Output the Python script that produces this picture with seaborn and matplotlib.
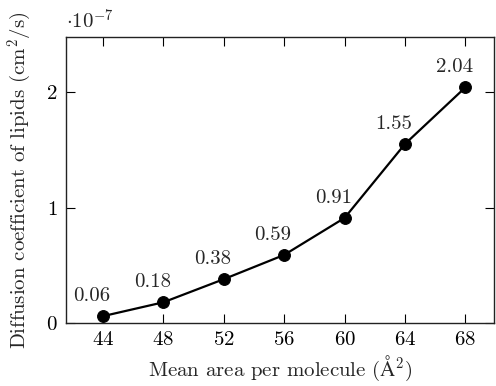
import matplotlib
matplotlib.use("Agg")
import matplotlib.pyplot as plt
import seaborn as sns
import pandas as pd

# data (diffusion coefficient in units of 1e-7 cm^2/s)
area = [44, 48, 52, 56, 60, 64, 68]
diffusion = [0.06, 0.18, 0.38, 0.59, 0.91, 1.55, 2.04]
labels = ["0.06", "0.18", "0.38", "0.59", "0.91", "1.55", "2.04"]
x_ticks = [44, 48, 52, 56, 60, 64, 68]
y_ticks = [0, 1, 2]

df = pd.DataFrame({"area": area, "diffusion": diffusion})

sns.set_style("ticks")
plt.rcParams["font.family"] = "serif"
plt.rcParams["font.serif"] = ["cmr10"]
plt.rcParams["mathtext.fontset"] = "cm"
plt.rcParams["axes.formatter.use_mathtext"] = True

fs = 15

fig = plt.figure(figsize=(4.96, 3.86), dpi=100)
ax = fig.add_axes([0.133, 0.163, 0.863, 0.741])

sns.lineplot(data=df, x="area", y="diffusion", color="black", linewidth=1.6,
             marker="o", markersize=8.5, markeredgecolor="black", ax=ax)

for x, y, t in zip(area, diffusion, labels):
    ax.annotate(t, (x, y), xytext=(-8, 8), textcoords="offset points",
                ha="center", va="bottom", fontsize=fs)

ax.set_xlim(41.55, 69.9)
ax.set_ylim(0, 2.476)
ax.set_xticks(x_ticks)
ax.set_yticks(y_ticks)
ax.tick_params(direction="in", length=6.5, width=0.8, labelsize=fs,
               top=True, right=True, colors="black", pad=6)
for s in ax.spines.values():
    s.set_linewidth(1.0)
    s.set_color("#222222")

ax.set_xlabel(r"Mean area per molecule ($\mathrm{\AA}^2$)", fontsize=fs, labelpad=3)
ax.set_ylabel(r"Diffusion coefficient of lipids (cm$^2$/s)", fontsize=fs, labelpad=9)
ax.text(0.0, 1.015, r"$\cdot 10^{-7}$", transform=ax.transAxes, fontsize=fs,
        ha="left", va="bottom")

fig.savefig("out.png", dpi=100)
